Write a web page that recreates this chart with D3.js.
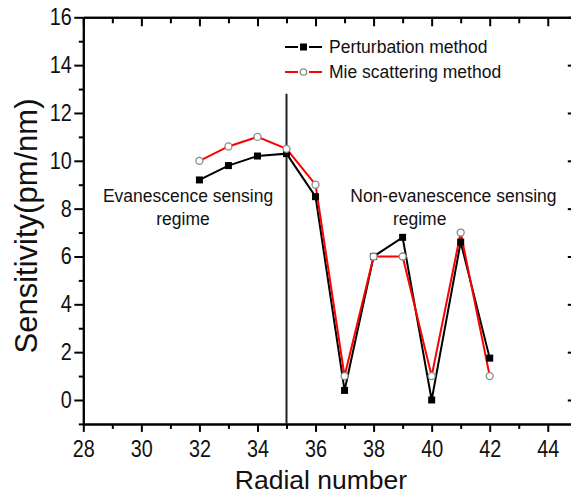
<!DOCTYPE html>
<html>
<head>
<meta charset="utf-8">
<script src="https://cdn.jsdelivr.net/npm/d3@7"></script>
<style>
  body { margin: 0; background: #fff; }
  svg { display: block; font-family: "Liberation Sans", Arial, sans-serif; }
  .axis path, .axis line { stroke: #000; stroke-width: 2; }
  .axis text { font-size: 23px; fill: #111; }
</style>
</head>
<body>
<script>
// data
var radial = [32, 33, 34, 35, 36, 37, 38, 39, 40, 41, 42];
var perturbation = [9.2, 9.8, 10.2, 10.3, 8.5, 0.4, 6.0, 6.8, 0.0, 6.6, 1.75];
var mieScattering = [10.0, 10.6, 11.0, 10.5, 9.0, 1.0, 6.0, 6.0, 1.0, 7.0, 1.0];

var xTicks = [28, 30, 32, 34, 36, 38, 40, 42, 44];
var xMinor = [29, 31, 33, 35, 37, 39, 41, 43, 45];
var yTicks = [0, 2, 4, 6, 8, 10, 12, 14, 16];
var yMinor = [-1, 1, 3, 5, 7, 9, 11, 13, 15];

var boundaryX = 35, boundaryTop = 12.8;

var seriesNames = ["Perturbation method", "Mie scattering method"];
var regimeLeft = ["Evanescence sensing", "regime"];
var regimeRight = ["Non-evanescence sensing", "regime"];

var width = 571, height = 498;

var svg = d3.select("body").append("svg")
    .attr("width", width)
    .attr("height", height);

var x = d3.scaleLinear().domain([28, 45]).range([83.3, 576.8]),
    y = d3.scaleLinear().domain([-1, 16]).range([423.9, 17.3]);

// tick labels in the original are a bit narrow
function narrow(g) {
  g.selectAll("text").attr("transform", "scale(0.86,1)");
}

// frame / axes
svg.append("g")
    .attr("class", "axis")
    .attr("transform", "translate(0," + y(-1) + ")")
    .call(d3.axisBottom(x).tickValues(xTicks).tickSize(8).tickPadding(9).tickSizeOuter(0).tickFormat(d3.format("d")))
    .call(narrow);
svg.append("g")
    .attr("class", "axis")
    .attr("transform", "translate(0," + y(-1) + ")")
    .call(d3.axisBottom(x).tickValues(xMinor).tickSize(5).tickSizeOuter(0).tickFormat(""));

svg.append("g")
    .attr("class", "axis")
    .attr("transform", "translate(0," + y(16) + ")")
    .call(d3.axisTop(x).tickValues(xTicks).tickSize(-9).tickSizeOuter(0).tickFormat(""));
svg.append("g")
    .attr("class", "axis")
    .attr("transform", "translate(0," + y(16) + ")")
    .call(d3.axisTop(x).tickValues(xMinor).tickSize(-6).tickSizeOuter(0).tickFormat(""));

svg.append("g")
    .attr("class", "axis")
    .attr("transform", "translate(" + x(28) + ",0)")
    .call(d3.axisLeft(y).tickValues(yTicks).tickSize(9).tickPadding(4.5).tickSizeOuter(0).tickFormat(d3.format("d")))
    .call(narrow);
svg.append("g")
    .attr("class", "axis")
    .attr("transform", "translate(" + x(28) + ",0)")
    .call(d3.axisLeft(y).tickValues(yMinor).tickSize(4.5).tickSizeOuter(0).tickFormat(""));

svg.append("g")
    .attr("class", "axis")
    .attr("transform", "translate(" + x(45) + ",0)")
    .call(d3.axisRight(y).tickValues(yTicks).tickSize(-9).tickSizeOuter(0).tickFormat(""));

// axis titles
svg.append("text")
    .attr("x", 321)
    .attr("y", 489)
    .attr("text-anchor", "middle")
    .style("font-size", "26.5px")
    .attr("fill", "#111")
    .text("Radial number");

svg.append("text")
    .attr("transform", "translate(36.5,226) rotate(-90)")
    .attr("text-anchor", "middle")
    .style("font-size", "31px")
    .attr("fill", "#111")
    .text("Sensitivity(pm/nm)");

// regime boundary
svg.append("line")
    .attr("x1", x(boundaryX)).attr("x2", x(boundaryX))
    .attr("y1", y(-1)).attr("y2", y(boundaryTop))
    .attr("stroke", "#222")
    .attr("stroke-width", 2);

// series
var line = d3.line()
    .x(function(d) { return x(d.r); })
    .y(function(d) { return y(d.v); });

var black = radial.map(function(r, i) { return {r: r, v: perturbation[i]}; });
var red = radial.map(function(r, i) { return {r: r, v: mieScattering[i]}; });

svg.append("path")
    .datum(black)
    .attr("d", line)
    .attr("fill", "none")
    .attr("stroke", "#000")
    .attr("stroke-width", 2);

svg.append("path")
    .datum(red)
    .attr("d", line)
    .attr("fill", "none")
    .attr("stroke", "#ff0000")
    .attr("stroke-width", 2);

svg.selectAll(".sq")
    .data(black)
    .enter().append("rect")
      .attr("class", "sq")
      .attr("x", function(d) { return x(d.r) - 3.5; })
      .attr("y", function(d) { return y(d.v) - 3.5; })
      .attr("width", 7)
      .attr("height", 7)
      .attr("fill", "#000");

svg.selectAll(".circ")
    .data(red)
    .enter().append("circle")
      .attr("class", "circ")
      .attr("cx", function(d) { return x(d.r); })
      .attr("cy", function(d) { return y(d.v); })
      .attr("r", 3.5)
      .attr("fill", "#fff")
      .attr("stroke", "#8a8a8a")
      .attr("stroke-width", 1.3);

// legend (line - marker - line, with small gaps)
var legend = svg.append("g");
var rowY = [47, 72];
var colors = ["#000", "#ff0000"];

rowY.forEach(function(ry, i) {
  legend.append("line")
      .attr("x1", 285).attr("x2", 298).attr("y1", ry).attr("y2", ry)
      .attr("stroke", colors[i]).attr("stroke-width", 2);
  legend.append("line")
      .attr("x1", 309).attr("x2", 322).attr("y1", ry).attr("y2", ry)
      .attr("stroke", colors[i]).attr("stroke-width", 2);
});
legend.append("rect")
    .attr("x", 303.5 - 3.5).attr("y", rowY[0] - 3.5).attr("width", 7).attr("height", 7)
    .attr("fill", "#000");
legend.append("circle")
    .attr("cx", 303.5).attr("cy", rowY[1]).attr("r", 3.2)
    .attr("fill", "#fff").attr("stroke", "#8a8a8a").attr("stroke-width", 1.3);

legend.selectAll("text")
    .data(seriesNames)
    .enter().append("text")
      .attr("x", 329)
      .attr("y", function(d, i) { return rowY[i]; })
      .attr("dy", "0.35em")
      .style("font-size", "17.5px")
      .attr("fill", "#111")
      .text(function(d) { return d; });

// regime annotations
var ann = svg.append("g").style("font-size", "17.5px").attr("fill", "#111").attr("text-anchor", "middle");
ann.append("text").attr("x", 188).attr("y", 201.7).text(regimeLeft[0]);
ann.append("text").attr("x", 183).attr("y", 224.5).text(regimeLeft[1]);
ann.append("text").attr("x", 453.4).attr("y", 201.7).text(regimeRight[0]);
ann.append("text").attr("x", 419.7).attr("y", 224.5).text(regimeRight[1]);
</script>
</body>
</html>
